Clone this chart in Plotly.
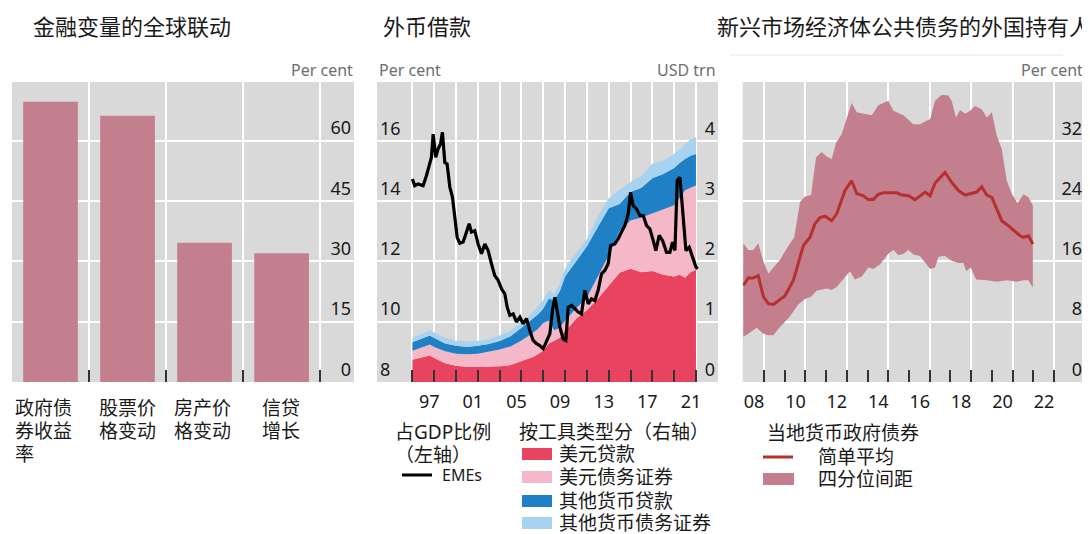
import plotly.graph_objects as go

# ---------------------------------------------------------------------------
# Drei Panels: Balken (global co-movement), Fremdwährungskredite, Auslandsbesitz
# ---------------------------------------------------------------------------
W, H = 1090, 534
OFF = 8                      # Standard-Rand des <body> im Browser
FW, FH = W - OFF, H - OFF

# Panel 1
bar_labels = [["政府债", "券收益", "率"], ["股票价", "格变动"], ["房产价", "格变动"], ["信贷", "增长"]]
bar_values = [69.7, 66.2, 34.6, 32.0]

# Panel 2 - gestapelte Flaechen (USD trn, kumulierte Oberkanten)
stack_year = [1996.0, 1997.0, 1997.6, 1998.0, 1999.0, 2000.0, 2001.0, 2002.0, 2003.0, 2004.0,
              2005.0, 2006.0, 2007.0, 2007.5, 2008.0, 2008.5, 2009.0, 2009.5, 2010.0, 2010.5,
              2011.0, 2012.0, 2013.0, 2014.0, 2015.0, 2016.0, 2017.0, 2018.0, 2019.0, 2020.0,
              2020.5, 2021.0, 2021.5, 2022.0]
usd_loans_top = [0.37, 0.41, 0.44, 0.40, 0.31, 0.27, 0.25, 0.25, 0.25, 0.26,
                 0.28, 0.35, 0.41, 0.46, 0.52, 0.64, 0.69, 0.73, 0.86, 0.94,
                 1.05, 1.19, 1.38, 1.60, 1.81, 1.88, 1.82, 1.84, 1.78, 1.75,
                 1.78, 1.73, 1.82, 1.86]
usd_bonds_top = [0.52, 0.58, 0.62, 0.58, 0.51, 0.47, 0.46, 0.47, 0.50, 0.54,
                 0.59, 0.69, 0.81, 0.88, 0.98, 1.02, 0.86, 0.90, 1.02, 1.12,
                 1.22, 1.40, 1.75, 2.10, 2.50, 2.68, 2.73, 2.80, 2.87, 2.93,
                 3.05, 3.18, 3.22, 3.26]
oth_loans_top = [0.66, 0.73, 0.77, 0.73, 0.64, 0.60, 0.58, 0.60, 0.63, 0.68,
                 0.76, 0.90, 1.05, 1.12, 1.22, 1.38, 1.36, 1.50, 1.75, 1.88,
                 2.00, 2.25, 2.57, 2.88, 2.95, 3.15, 3.22, 3.38, 3.45, 3.55,
                 3.63, 3.70, 3.75, 3.78]
oth_bonds_top = [0.73, 0.81, 0.86, 0.82, 0.73, 0.68, 0.67, 0.68, 0.71, 0.77,
                 0.85, 0.99, 1.15, 1.25, 1.36, 1.52, 1.46, 1.62, 1.88, 2.02,
                 2.13, 2.37, 2.75, 3.05, 3.18, 3.32, 3.42, 3.62, 3.67, 3.78,
                 3.85, 3.95, 4.02, 4.06]

# Panel 2 - EMEs, % of GDP (linke Achse)
emes_year = [1996.0, 1996.21, 1996.52, 1996.98, 1997.28, 1997.53, 1997.74, 1997.90, 1998.14, 1998.35,
             1998.57, 1998.75, 1998.97, 1999.18, 1999.43, 1999.67, 1999.88, 2000.10, 2000.34, 2000.65,
             2000.95, 2001.20, 2001.41, 2001.72, 2002.02, 2002.33, 2002.64, 2002.94, 2003.25, 2003.55,
             2003.86, 2004.17, 2004.47, 2004.69, 2004.93, 2005.24, 2005.54, 2005.85, 2006.15, 2006.46,
             2006.76, 2007.07, 2007.38, 2007.68, 2007.99, 2008.29, 2008.60, 2008.84, 2009.06, 2009.27,
             2009.52, 2009.82, 2010.07, 2010.28, 2010.59, 2010.89, 2011.20, 2011.50, 2011.81, 2012.12,
             2012.42, 2012.73, 2013.03, 2013.34, 2013.64, 2013.95, 2014.17, 2014.56, 2014.87, 2015.17,
             2015.48, 2015.79, 2016.00, 2016.24, 2016.55, 2016.86, 2017.16, 2017.47, 2017.77, 2018.08,
             2018.32, 2018.63, 2018.94, 2019.30, 2019.61, 2019.85, 2020.07, 2020.28, 2020.53, 2020.83,
             2021.08, 2021.38, 2021.69, 2022.00, 2022.15]
emes_val = [14.73, 14.51, 14.57, 14.51, 14.84, 15.23, 15.45, 16.22, 15.45, 15.73,
            15.89, 16.28, 15.28, 15.23, 14.46, 14.13, 13.57, 12.80, 12.60, 12.64,
            12.97, 13.25, 12.97, 13.02, 12.58, 12.25, 12.58, 12.36, 11.92, 11.53,
            11.37, 11.09, 10.92, 10.48, 10.21, 10.26, 9.99, 10.15, 9.93, 10.10,
            9.71, 9.38, 9.27, 9.21, 9.10, 9.38, 9.60, 10.37, 10.81, 10.37,
            9.82, 9.43, 9.38, 10.48, 10.54, 10.43, 10.32, 10.26, 11.04, 10.59,
            10.76, 10.70, 11.04, 11.59, 11.70, 11.92, 12.53, 12.58, 12.75, 12.97,
            13.19, 13.57, 14.29, 13.85, 13.74, 13.52, 13.52, 13.19, 13.08, 12.69,
            12.36, 12.86, 12.69, 12.30, 12.30, 12.64, 12.36, 14.68, 14.79, 13.46,
            12.36, 12.47, 12.14, 11.81, 11.75]

# Panel 3 - Mittelwert und Interquartilsbereich
mean_year = [2008.00, 2008.24, 2008.48, 2008.72, 2008.97, 2009.21, 2009.45, 2009.77, 2010.01, 2010.42,
             2010.66, 2010.90, 2011.22, 2011.46, 2011.70, 2011.95, 2012.27, 2012.51, 2012.91, 2013.23,
             2013.48, 2013.80, 2014.04, 2014.28, 2014.52, 2014.76, 2015.41, 2015.65, 2015.97, 2016.29,
             2016.78, 2017.02, 2017.26, 2017.74, 2018.06, 2018.39, 2018.71, 2018.95, 2019.27, 2019.51,
             2019.76, 2020.00, 2020.48, 2020.72, 2021.04, 2021.37, 2021.53, 2021.77, 2021.98]
mean_val = [12.8, 13.8, 13.8, 14.1, 11.3, 10.4, 10.3, 11.0, 11.4, 13.5,
            15.7, 18.1, 19.2, 21.0, 21.8, 22.0, 21.4, 22.3, 25.4, 26.7,
            25.0, 24.7, 24.2, 24.2, 24.9, 25.1, 25.1, 24.8, 24.7, 24.2,
            25.2, 24.7, 26.4, 27.8, 26.5, 25.4, 24.8, 25.0, 25.2, 25.9,
            24.8, 24.5, 21.4, 20.9, 20.1, 19.4, 19.2, 19.4, 18.3]
upper_year = [2008.00, 2008.24, 2008.48, 2008.72, 2008.97, 2009.21, 2009.45, 2009.77, 2010.09, 2010.46,
              2010.74, 2010.98, 2011.27, 2011.51, 2011.78, 2012.03, 2012.27, 2012.48, 2012.75, 2013.23,
              2013.48, 2013.80, 2014.20, 2014.52, 2015.00, 2015.25, 2015.73, 2016.21, 2016.53, 2017.02,
              2017.26, 2017.58, 2017.90, 2018.06, 2018.27, 2018.47, 2018.71, 2018.95, 2019.19, 2019.51,
              2019.76, 2020.00, 2020.24, 2020.48, 2020.72, 2020.96, 2021.24, 2021.53, 2021.77, 2021.98]
upper_val = [18.4, 17.5, 17.5, 18.4, 16.0, 14.4, 15.2, 16.2, 17.7, 19.2,
             23.9, 24.6, 24.8, 29.8, 30.5, 29.9, 29.6, 31.7, 32.9, 37.0,
             35.8, 35.6, 35.4, 36.7, 37.3, 36.0, 35.4, 34.2, 34.2, 34.9,
             37.3, 38.1, 38.0, 37.3, 35.1, 36.1, 35.6, 36.0, 36.6, 36.2,
             35.1, 35.8, 32.7, 30.9, 26.7, 25.0, 23.7, 24.9, 24.5, 23.4]
lower_year = [2008.00, 2008.24, 2008.64, 2008.97, 2009.21, 2009.45, 2009.77, 2010.22, 2010.66, 2010.98,
              2011.27, 2011.54, 2012.03, 2012.27, 2012.51, 2012.83, 2013.15, 2013.39, 2013.72, 2014.04,
              2014.28, 2014.60, 2015.00, 2015.25, 2015.49, 2015.73, 2015.97, 2016.21, 2016.53, 2017.02,
              2017.26, 2017.42, 2017.74, 2018.06, 2018.39, 2018.63, 2018.76, 2018.98, 2019.24, 2019.76,
              2020.24, 2020.72, 2021.20, 2021.53, 2021.77, 2021.98]
lower_val = [6.0, 6.4, 7.2, 6.4, 6.2, 6.2, 7.3, 8.6, 10.3, 11.0,
             11.3, 12.1, 12.4, 12.2, 12.6, 13.7, 14.7, 13.6, 14.0, 15.2,
             15.0, 15.6, 17.0, 17.5, 16.8, 17.0, 17.5, 16.9, 16.7, 15.0,
             15.2, 16.6, 16.7, 16.1, 15.8, 15.8, 14.7, 15.2, 13.6, 13.5,
             13.3, 13.5, 13.3, 13.5, 13.5, 12.5]

p2_ticks = [1996, 1998, 2000, 2002, 2004, 2006, 2008, 2010, 2012, 2014, 2016, 2018, 2020, 2022]
p2_ticktext = ["", "97", "", "01", "", "05", "", "09", "", "13", "", "17", "", "21"]
p3_grid = [2009, 2011, 2013, 2015, 2017, 2019, 2021, 2023]
p3_ticktext = ["08", "10", "12", "14", "16", "18", "20", "22"]
p3_minor = [2008, 2010, 2012, 2014, 2016, 2018, 2020, 2022]

BAR = "#c47f8e"
RED = "#e8445f"
PINK = "#f5b8c8"
DBLUE = "#1f80c6"
LBLUE = "#a7d3f1"
MEAN = "#b5302f"
GRID = "white"
TICK = "#333333"
FONT = "Noto Sans, Noto Sans CJK SC"


def px(x):
    return (x - OFF) / FW


def py(y):
    return 1 - (y - OFF) / FH


fig = go.Figure()

# Panel 1
fig.add_trace(go.Bar(x=[0, 1, 2, 3], y=bar_values, width=0.71, marker_color=BAR,
                     marker_line_width=0, xaxis="x", yaxis="y"))

# Panel 2
for top, col in [(usd_loans_top, RED), (usd_bonds_top, PINK),
                 (oth_loans_top, DBLUE), (oth_bonds_top, LBLUE)]:
    fig.add_trace(go.Scatter(x=stack_year, y=top, mode="lines", line=dict(width=0, color=col),
                             fill="tozeroy" if col == RED else "tonexty", fillcolor=col,
                             xaxis="x2", yaxis="y2"))
fig.add_trace(go.Scatter(x=emes_year, y=emes_val, mode="lines",
                         line=dict(color="black", width=3.2), xaxis="x2", yaxis="y3"))

# Panel 3
fig.add_trace(go.Scatter(x=upper_year + lower_year[::-1], y=upper_val + lower_val[::-1],
                         mode="lines", fill="toself", fillcolor=BAR, line=dict(width=0),
                         xaxis="x3", yaxis="y4"))
fig.add_trace(go.Scatter(x=mean_year, y=mean_val, mode="lines",
                         line=dict(color=MEAN, width=3), xaxis="x3", yaxis="y4"))

ydom = [py(382), py(82)]
tickfont = dict(size=18, color="#1a1a1a")
common_x = dict(ticks="inside", ticklen=12, tickwidth=1.5, tickcolor=TICK, showgrid=True,
                gridcolor=GRID, gridwidth=1.5, zeroline=False, showline=False, tickfont=tickfont,
                ticklabelstandoff=7)
common_y = dict(domain=ydom, ticks="", ticklabelposition="inside top", zeroline=False,
                showline=False, gridcolor=GRID, gridwidth=1.5, tickfont=tickfont)

fig.update_layout(
    width=FW, height=FH, margin=dict(l=0, r=0, t=0, b=0),
    plot_bgcolor="#d9d9d9", paper_bgcolor="white", showlegend=False,
    font=dict(family=FONT, size=17, color="#1a1a1a"),
    xaxis=dict(domain=[px(12), px(354)], range=[-0.5, 3.94], anchor="y",
               tickvals=[-0.5, 0.5, 1.5, 2.5, 3.5], showticklabels=False, **common_x),
    yaxis=dict(range=[0, 74.6], anchor="x", side="right", tickvals=[0, 15, 30, 45, 60],
               showgrid=True, **common_y),
    xaxis2=dict(domain=[px(377), px(718)], range=[1992.75, 2024.02], anchor="y2",
                tickvals=p2_ticks, ticktext=p2_ticktext, ticklabelshift=-5, **common_x),
    yaxis2=dict(range=[0, 4.975], anchor="x2", side="right", tickvals=[0, 1, 2, 3, 4],
                showgrid=True, **common_y),
    yaxis3=dict(range=[8, 17.95], anchor="x2", side="left", overlaying="y2",
                tickvals=[8, 10, 12, 14, 16], showgrid=False, **common_y),
    xaxis3=dict(domain=[px(742.7), px(1085)], range=[2007.97, 2024.5], anchor="y4",
                tickvals=p3_grid, ticktext=p3_ticktext, ticklabelshift=-10,
                minor=dict(tickvals=p3_minor, ticks="inside", ticklen=12, tickwidth=1.5,
                           tickcolor=TICK, showgrid=False),
                **common_x),
    yaxis4=dict(range=[0, 39.8], anchor="x3", side="right", tickvals=[0, 8, 16, 24, 32],
                showgrid=True, **common_y),
)

ann = []


def text(x, y, s, size=19, anchor="left", color="#1a1a1a"):
    ann.append(dict(x=px(x), y=py(y), xref="paper", yref="paper", text=s, showarrow=False,
                    xanchor=anchor, yanchor="middle", align="left",
                    font=dict(size=size, color=color)))


# Titel
text(31, 26, "金融变量的全球联动", size=22)
text(381, 26, "外币借款", size=22)
text(715, 26, "新兴市场经济体公共债务的外国持有人", size=22)

# Einheiten
UNIT = "#6e6e6e"
text(355, 70, "Per cent", size=16, anchor="right", color=UNIT)
text(377, 70, "Per cent", size=16, color=UNIT)
text(718, 70, "USD trn", size=16, anchor="right", color=UNIT)
text(1085, 70, "Per cent", size=16, anchor="right", color=UNIT)

# Kategorien Panel 1
for xpos, lines in zip([13, 97, 172, 260], bar_labels):
    for k, line in enumerate(lines):
        text(xpos, 408 + 23 * k, line)

# Legende Panel 2
text(393, 432, "占GDP比例")
text(393, 455, "（左轴）")
text(440, 475, "EMEs", size=16)
text(517, 432, "按工具类型分（右轴）")
legend2 = [("美元贷款", RED, 454), ("美元债务证券", PINK, 477),
           ("其他货币贷款", DBLUE, 501), ("其他货币债务证券", LBLUE, 523)]
for lab, _, yy in legend2:
    text(557, yy, lab)

# Legende Panel 3
text(765, 433, "当地货币政府债券")
text(816, 457, "简单平均")
text(816, 479, "四分位间距")

shapes = [
    dict(type="line", xref="paper", yref="paper", x0=px(402), x1=px(432), y0=py(475), y1=py(475),
         line=dict(color="black", width=3)),
    dict(type="line", xref="paper", yref="paper", x0=px(763), x1=px(793), y0=py(457), y1=py(457),
         line=dict(color=MEAN, width=3)),
    dict(type="rect", xref="paper", yref="paper", x0=px(763), x1=px(794), y0=py(485), y1=py(473),
         fillcolor=BAR, line=dict(width=0)),
    dict(type="line", xref="paper", yref="paper", x0=px(730), x1=px(1063), y0=py(55), y1=py(55),
         line=dict(color="#e6e6e6", width=1)),
]
for _, col, yy in legend2:
    shapes.append(dict(type="rect", xref="paper", yref="paper", x0=px(522), x1=px(552),
                       y0=py(yy + 6), y1=py(yy - 6), fillcolor=col, line=dict(width=0)))

fig.update_layout(annotations=ann, shapes=shapes)
fig.write_html("out.html")
